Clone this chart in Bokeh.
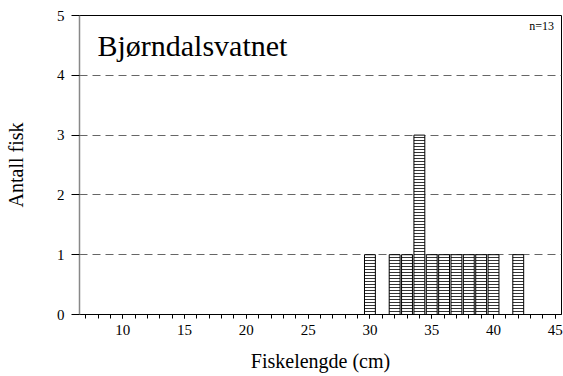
from bokeh.plotting import figure
from bokeh.models import (Range1d, SingleIntervalTicker, FixedTicker, Label,
                          ColumnDataSource)
from bokeh.embed import file_html
from bokeh.resources import INLINE

# ---- data ----
lengths = [30, 32, 33, 34, 35, 36, 37, 38, 39, 40, 42]
counts = [1, 1, 1, 3, 1, 1, 1, 1, 1, 1, 1]
lake_name = "Bjørndalsvatnet"
n_text = "n=13"
x_label = "Fiskelengde (cm)"
y_label = "Antall fisk"
y_tick_values = [0, 1, 2, 3, 4, 5]
grid_values = [1, 2, 3, 4]

FONT = "Liberation Serif"

src = ColumnDataSource(data=dict(x=lengths, top=counts))

p = figure(width=563, height=376,
           min_border_left=79, min_border_right=2,
           min_border_top=15, min_border_bottom=62,
           x_range=Range1d(6.5, 45.5), y_range=Range1d(0, 5),
           output_backend="svg", toolbar_location=None)

p.background_fill_color = "white"
p.border_fill_color = "white"
p.outline_line_color = "black"
p.outline_line_width = 1

# grid
p.xgrid.visible = False
p.ygrid.ticker = FixedTicker(ticks=grid_values)
p.ygrid.grid_line_color = "#666666"
p.ygrid.grid_line_dash = "8 5"
p.ygrid.grid_line_width = 1.2

# bars
p.vbar(x="x", top="top", bottom=0, width=0.88, source=src,
       fill_color="white", line_color="black", line_width=1,
       hatch_pattern="horizontal_line", hatch_color="black",
       hatch_scale=3, hatch_weight=0.8)

# x axis
xa = p.xaxis[0]
xa.ticker = SingleIntervalTicker(interval=5, num_minor_ticks=5)
xa.axis_line_color = "black"
xa.axis_line_width = 1
xa.major_tick_in = 0
xa.major_tick_out = 4
xa.minor_tick_in = 0
xa.minor_tick_out = 4
xa.major_tick_line_color = "black"
xa.minor_tick_line_color = "black"
xa.major_label_text_font = FONT
xa.major_label_text_font_size = "15px"
xa.major_label_text_color = "black"
xa.major_label_standoff = 6
xa.axis_label = x_label
xa.axis_label_text_font = FONT
xa.axis_label_text_font_size = "20px"
xa.axis_label_text_font_style = "normal"
xa.axis_label_text_color = "black"
xa.axis_label_standoff = 12

# y axis
ya = p.yaxis[0]
ya.ticker = FixedTicker(ticks=y_tick_values)
ya.axis_line_color = "#888888"
ya.axis_line_width = 1.5
ya.major_tick_in = 0
ya.major_tick_out = 8
ya.minor_tick_line_color = None
ya.major_tick_line_color = "black"
ya.major_label_text_font = FONT
ya.major_label_text_font_size = "15px"
ya.major_label_text_color = "black"
ya.major_label_standoff = 7
ya.axis_label = y_label
ya.axis_label_text_font = FONT
ya.axis_label_text_font_size = "20px"
ya.axis_label_text_font_style = "normal"
ya.axis_label_text_color = "black"
ya.axis_label_standoff = 27

# annotations
p.add_layout(Label(x=7.95, y=4.5, text=lake_name, text_font=FONT,
                   text_font_size="30px", text_baseline="alphabetic",
                   text_color="black"))
p.add_layout(Label(x=44.9, y=4.83, text=n_text, text_font=FONT,
                   text_font_size="12px", text_baseline="alphabetic",
                   text_align="right", text_color="black"))

open("out.html", "w").write(file_html(p, INLINE))
